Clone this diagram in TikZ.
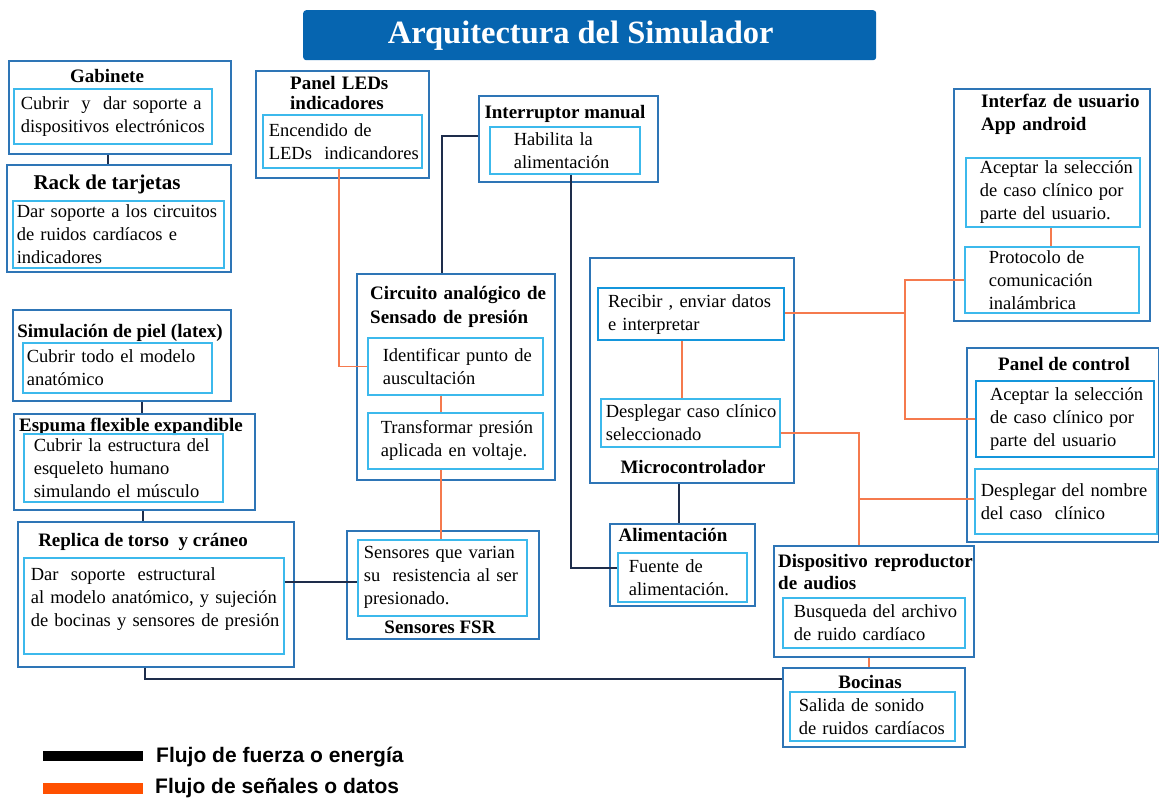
\documentclass[tikz,border=0pt]{standalone}
\usepackage{fontspec}
\setmainfont{Liberation Serif}
\newfontfamily\leyenda{Liberation Sans}
\usepackage{tikz}

\definecolor{azulext}{RGB}{46,117,182}
\definecolor{azulint}{RGB}{60,185,236}
\definecolor{azulfuerte}{RGB}{20,150,220}
\definecolor{azultit}{RGB}{6,101,176}
\definecolor{naranja}{RGB}{245,122,78}
\definecolor{naranjaley}{RGB}{255,80,0}
\definecolor{marino}{RGB}{30,45,75}

\begin{document}
\begin{tikzpicture}[x=1pt,y=-1pt,font=\fontsize{18.5}{23}\selectfont]
\tikzstyle{ext} = [draw=azulext,line width=1.8pt,anchor=north west,inner sep=0pt]
\tikzstyle{int} = [draw=azulint,line width=1.6pt,anchor=north west,inner sep=0pt,align=left]
\tikzstyle{hd} = [font=\fontsize{19}{22}\selectfont\bfseries,inner sep=0pt,anchor=base]
\tikzstyle{hdl} = [hd,anchor=base west,align=left,text width=210pt]
\tikzstyle{fuerza} = [draw=marino,line width=1.6pt]
\tikzstyle{senal} = [draw=naranja,line width=1.5pt]
\tikzset{sangria/.style={execute at begin node={\leftskip=#1pt\rightskip=-40pt plus 1fil\hyphenpenalty=10000}}}

\fill[white] (0,0) rectangle (1159,798);
\useasboundingbox (0,0) rectangle (1159,798);

\node[fill=azultit,rounded corners=3pt,anchor=north west,minimum width=573pt,minimum height=50pt,inner sep=0pt,text=white,font=\fontsize{32.5}{36}\selectfont\bfseries] (titulo) at (303,10) {\hspace*{-18pt}Arquitectura del Simulador};

% columna izquierda
\node[ext,minimum width=222pt,minimum height=93pt] (gab) at (8,60) {};
\node[hd] (gabhd) at (107,82) {Gabinete};
\node[int,text width=198pt,minimum height=55pt,sangria=7] (gabt) at (13,88) {Cubrir~ y~ dar soporte a\\dispositivos electrónicos};

\node[ext,minimum width=224pt,minimum height=107pt] (rack) at (6,164) {};
\node[hd,font=\fontsize{21}{24}\selectfont\bfseries] (rackhd) at (107,189) {Rack de tarjetas};
\node[int,text width=211pt,minimum height=67pt,sangria=4] (rackt) at (12,200) {Dar soporte a los circuitos\\de ruidos cardíacos e\\indicadores};

\node[ext,minimum width=218pt,minimum height=91pt] (piel) at (12,309) {};
\node[hd] (pielhd) at (120,337) {Simulación de piel (latex)};
\node[int,text width=189pt,minimum height=50pt,sangria=4] (pielt) at (22,342) {Cubrir todo el modelo\\anatómico};

\node[ext,minimum width=241pt,minimum height=96pt] (esp) at (13,413) {};
\node[hd] (esphd) at (131,431) {Espuma flexible expandible};
\node[int,text width=199pt,minimum height=68pt,sangria=10] (espt) at (23,433) {Cubrir la estructura del\\esqueleto humano\\simulando el músculo};

\node[ext,minimum width=276pt,minimum height=145pt] (rep) at (17,521) {};
\node[hd] (rephd) at (143,546) {Replica de torso~ y cráneo};
\node[int,text width=260pt,minimum height=96pt,sangria=7] (rept) at (23,557) {Dar~ soporte~ estructural\\al modelo anatómico, y sujeción\\de bocinas y sensores de presión\\[-6pt]\mbox{}};

% centro
\node[ext,minimum width=173pt,minimum height=107pt] (leds) at (255,70) {};
\node[hdl,font=\fontsize{19}{20}\selectfont\bfseries] (ledshd) at (290,89) {Panel LEDs\\indicadores};
\node[int,text width=159pt,minimum height=53pt,sangria=6] (ledst) at (262,114) {Encendido de\\LEDs~ indicandores};

\node[ext,minimum width=179pt,minimum height=86pt] (inter) at (478,95) {};
\node[hd] (interhd) at (565,118) {Interruptor manual};
\node[int,text width=150pt,minimum height=47pt,sangria=24] (intert) at (489,126) {Habilita la\\alimentación};

\node[ext,minimum width=198pt,minimum height=206pt] (circ) at (356,273) {};
\node[hdl,font=\fontsize{19}{24}\selectfont\bfseries] (circhd) at (370,299) {Circuito analógico de\\Sensado de presión};
\node[int,text width=175pt,minimum height=57pt,sangria=15] (identt) at (367,337) {Identificar punto de\\auscultación};
\node[int,text width=175pt,minimum height=56pt,sangria=13] (transt) at (367,412) {Transformar presión\\aplicada en voltaje.};

\node[ext,minimum width=192pt,minimum height=108pt] (fsr) at (346,530) {};
\node[int,text width=169pt,minimum height=76pt,sangria=6] (fsrt) at (357,539) {Sensores que varian\\su~ resistencia al ser\\presionado.};
\node[hd] (fsrhd) at (440,633) {Sensores FSR};

\node[ext,minimum width=204pt,minimum height=225pt] (micro) at (589,257) {};
\node[int,draw=azulfuerte,line width=2.2pt,text width=186pt,minimum height=52pt,sangria=10] (recibt) at (597,287) {Recibir , enviar datos\\e interpretar};
\node[int,text width=179pt,minimum height=48pt,sangria=5] (despt) at (600,398) {Desplegar caso clínico\\seleccionado};
\node[hd] (microhd) at (693,473) {Microcontrolador};

\node[ext,minimum width=145pt,minimum height=82pt] (alim) at (609,523) {};
\node[hd] (alimhd) at (673,541) {Alimentación};
\node[int,text width=129pt,minimum height=49pt,sangria=11] (fuentet) at (617,552) {Fuente de\\alimentación.};

% derecha
\node[ext,minimum width=196pt,minimum height=232pt] (app) at (953,88) {};
\node[hdl,font=\fontsize{19}{23}\selectfont\bfseries] (apphd) at (981,107) {Interfaz de usuario\\App android};
\node[int,text width=174pt,minimum height=69pt,sangria=14] (acepat) at (965,157) {Aceptar la selección\\de caso clínico por\\parte del usuario.};
\node[int,text width=174pt,minimum height=66pt,sangria=24] (protot) at (964,246) {Protocolo de\\comunicación\\inalámbrica};

\node[ext,minimum width=192pt,minimum height=194pt] (panel) at (966,347) {};
\node[hd] (panelhd) at (1064,370) {Panel de control};
\node[int,draw=azulfuerte,line width=2.2pt,text width=178pt,minimum height=76pt,sangria=14] (acept) at (975,380) {Aceptar la selección\\de caso clínico por\\parte del usuario};
\node[int,text width=182pt,minimum height=65pt,sangria=6] (nombret) at (974,468) {Desplegar del nombre\\del caso~ clínico};

\node[ext,minimum width=200pt,minimum height=111pt] (disp) at (773,545) {};
\node[hdl] (disphd) at (778,567) {Dispositivo reproductor\\de audios};
\node[int,text width=182pt,minimum height=50pt,sangria=11] (buscat) at (782,597) {Busqueda del archivo\\de ruido cardíaco};

\node[ext,minimum width=182pt,minimum height=79pt] (boc) at (782,667) {};
\node[hd] (bochd) at (870,688) {Bocinas};
\node[int,text width=165pt,minimum height=49pt,sangria=9] (salidat) at (789,691) {Salida de sonido\\de ruidos cardíacos};

% flujo de fuerza
\draw[fuerza] (108,0 |- gab.south) -- (108,0 |- rack.north);
\draw[fuerza] (142,0 |- piel.south) -- (142,0 |- esp.north);
\draw[fuerza] (143,0 |- esp.south) -- (143,0 |- rep.north);
\draw[fuerza] (145,0 |- rep.south) |- (boc.west |- 0,679);
\draw[fuerza] (rept.east |- 0,582) -- (fsrt.west |- 0,582);
\draw[fuerza] (inter.west |- 0,136) -| (442,0 |- circ.north);
\draw[fuerza] (571,0 |- intert.south) |- (fuentet.west |- 0,568);
\draw[fuerza] (679,0 |- micro.south) -- (679,0 |- alim.north);

% flujo de datos
\coordinate (r1) at (905,313);
\coordinate (r2) at (859,433);
\coordinate (r3) at (859,499);
\draw[senal] (339,0 |- ledst.south) |- (identt.west);
\draw[senal] (441,0 |- identt.south) -- (441,0 |- transt.north);
\draw[senal] (441,0 |- transt.south) -- (441,0 |- fsrt.north);
\draw[senal] (682,0 |- recibt.south) -- (682,0 |- despt.north);
\draw[senal] (recibt.east |- r1) -- (r1);
\draw[senal] (protot.west) -| (r1);
\draw[senal] (acept.west) -| (r1);
\draw[senal] (despt.east |- r2) -| (r2 |- disp.north);
\draw[senal] (r3) -- (nombret.west |- r3);
\draw[senal] (1051,0 |- acepat.south) -- (1051,0 |- protot.north);
\draw[senal] (869,0 |- disp.south) -- (869,0 |- boc.north);

% leyenda
\node[fill=black,anchor=north west,minimum width=100pt,minimum height=10pt,inner sep=0pt] (barra1) at (43,751) {};
\node[fill=naranjaley,anchor=north west,minimum width=100pt,minimum height=11pt,inner sep=0pt] (barra2) at (43,783) {};
\node[anchor=base west,inner sep=0pt,font=\leyenda\bfseries\fontsize{21}{24}\selectfont] (ley1) at (156,762) {Flujo de fuerza o energía};
\node[anchor=base west,inner sep=0pt,font=\leyenda\bfseries\fontsize{21}{24}\selectfont] (ley2) at (155,793) {Flujo de señales o datos};
\end{tikzpicture}
\end{document}
